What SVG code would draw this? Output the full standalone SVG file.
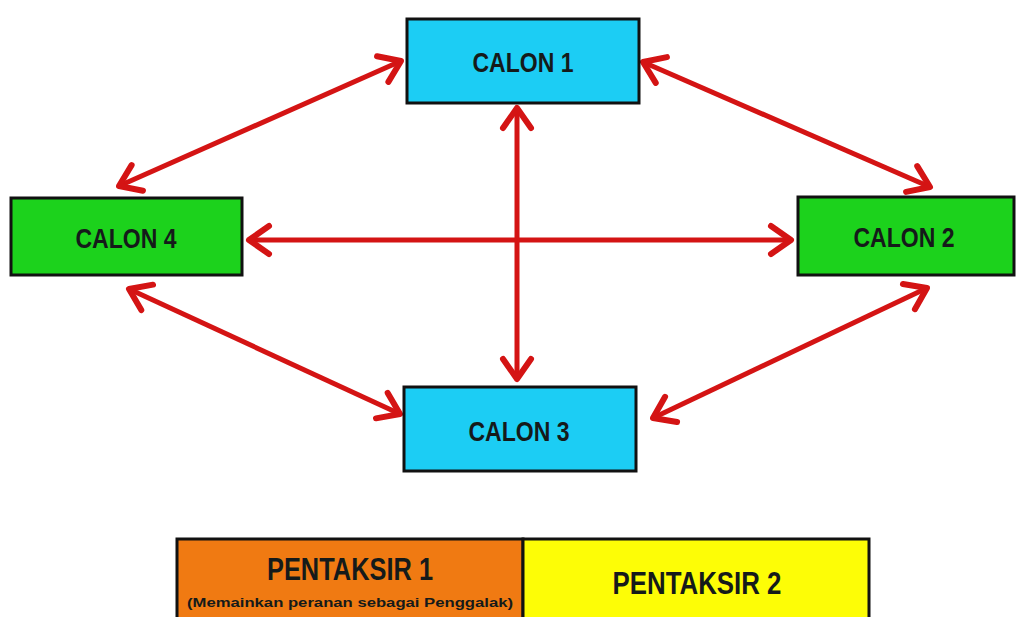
<svg xmlns="http://www.w3.org/2000/svg" width="1018" height="617" viewBox="0 0 1018 617">
  <defs>
    <style>
      .box { stroke: #111; stroke-width: 3; }
      .cyan { fill: #1ccdf4; }
      .green { fill: #1cd21c; }
      .orange { fill: #f07a12; }
      .yellow { fill: #fdfd06; }
      .lbl { font-family: "Liberation Sans Narrow", "Liberation Sans", Arial, sans-serif; font-weight: bold; fill: #151a1a; text-anchor: middle; }
      .conn { stroke: #d41414; stroke-width: 5; fill: none; marker-start: url(#chev); marker-end: url(#chev); }
    </style>
    <marker id="chev" markerUnits="userSpaceOnUse" viewBox="-30 -20 40 40" markerWidth="40" markerHeight="40" refX="0" refY="0" orient="auto-start-reverse" overflow="visible">
      <path d="M-20,-14 L0,0 L-20,14" fill="none" stroke="#d41414" stroke-width="6" stroke-linecap="round" stroke-linejoin="round"/>
    </marker>
  </defs>
  <rect width="1018" height="617" fill="#ffffff"/>

  <g id="connectors">
    <line class="conn" x1="401" y1="61" x2="119" y2="186"/>
    <line class="conn" x1="643" y1="62" x2="930" y2="187"/>
    <line class="conn" x1="249" y1="240" x2="791" y2="240"/>
    <line class="conn" x1="517" y1="108" x2="517" y2="379"/>
    <line class="conn" x1="129" y1="289" x2="400" y2="414"/>
    <line class="conn" x1="927" y1="288" x2="653" y2="418"/>
  </g>

  <g id="calon1">
    <rect class="box cyan" x="407" y="19" width="232" height="84"/>
    <text class="lbl" x="523" y="72" font-size="27" textLength="101" lengthAdjust="spacingAndGlyphs">CALON 1</text>
  </g>
  <g id="calon2">
    <rect class="box green" x="798" y="197" width="216" height="78"/>
    <text class="lbl" x="904" y="247" font-size="27" textLength="101" lengthAdjust="spacingAndGlyphs">CALON 2</text>
  </g>
  <g id="calon3">
    <rect class="box cyan" x="404" y="387" width="232" height="84"/>
    <text class="lbl" x="519" y="441" font-size="27" textLength="101" lengthAdjust="spacingAndGlyphs">CALON 3</text>
  </g>
  <g id="calon4">
    <rect class="box green" x="11" y="198" width="231" height="77"/>
    <text class="lbl" x="126" y="248" font-size="27" textLength="101" lengthAdjust="spacingAndGlyphs">CALON 4</text>
  </g>

  <g id="pentaksir1">
    <rect class="box orange" x="177" y="539" width="346" height="82"/>
    <text class="lbl" x="350" y="580" font-size="32" textLength="166" lengthAdjust="spacingAndGlyphs">PENTAKSIR 1</text>
    <text class="lbl" x="350" y="607" font-size="13" textLength="326" lengthAdjust="spacingAndGlyphs">(Memainkan peranan sebagai Penggalak)</text>
  </g>
  <g id="pentaksir2">
    <rect class="box yellow" x="523" y="539" width="346" height="82"/>
    <text class="lbl" x="697" y="594" font-size="32" textLength="169" lengthAdjust="spacingAndGlyphs">PENTAKSIR 2</text>
  </g>
</svg>
